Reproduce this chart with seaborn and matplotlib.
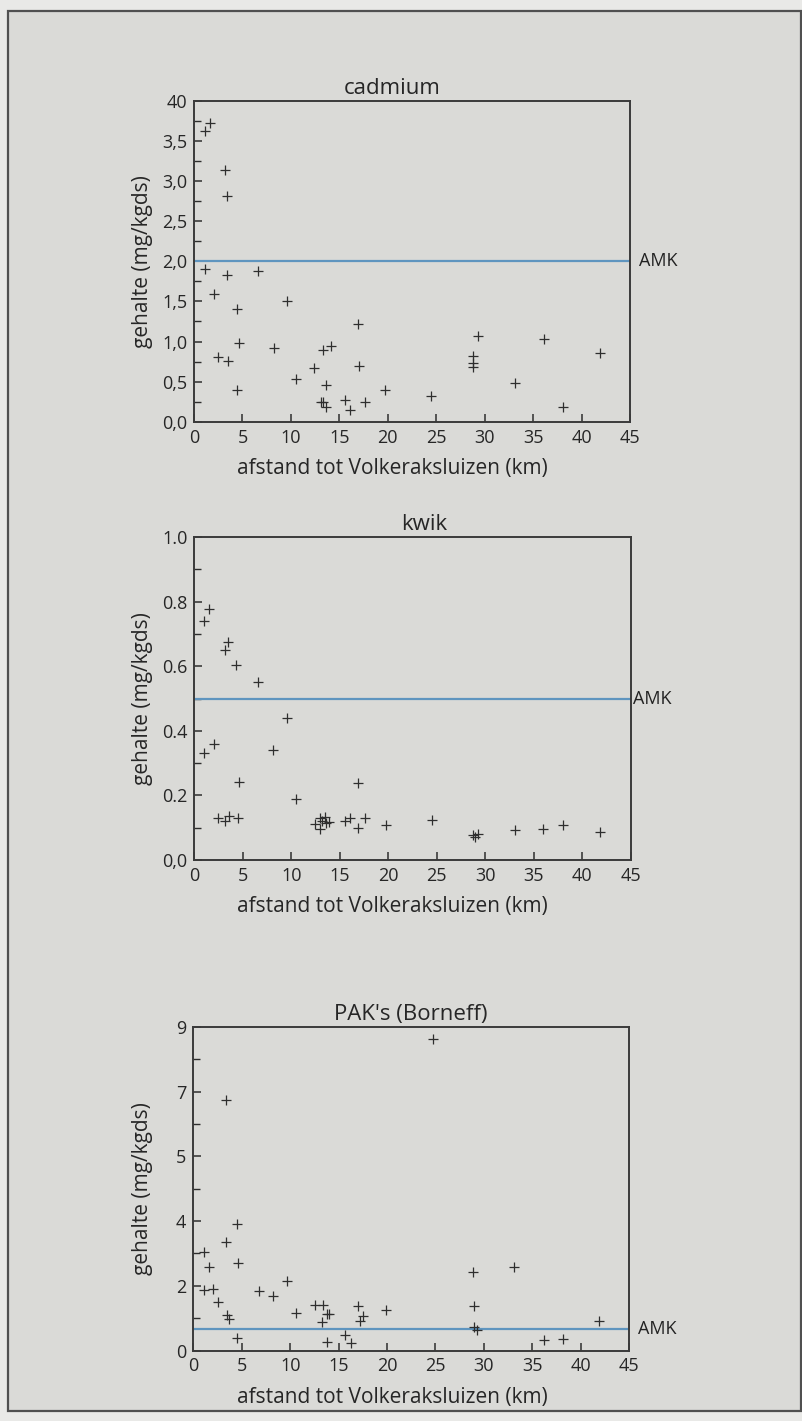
import numpy as np
import pandas as pd
import matplotlib
matplotlib.use("Agg")
import matplotlib.pyplot as plt
from matplotlib.patches import Rectangle
from matplotlib.ticker import FixedLocator, MultipleLocator
import seaborn as sns

# ---------------- data ----------------
cd_x = [1.1, 1.65, 3.16, 3.44, 1.1, 3.4, 6.6, 2.03, 4.44, 9.56, 16.96, 4.64, 8.22, 13.3, 14.1,
        2.44, 3.54, 12.4, 17.0, 10.56, 13.6, 4.44, 19.7, 13.1, 13.35, 13.65, 15.6, 16.1, 17.6,
        24.5, 29.3, 28.8, 28.8, 28.8, 33.1, 36.1, 38.1, 41.9]
cd_y = [3.62, 3.72, 3.14, 2.81, 1.90, 1.83, 1.88, 1.59, 1.41, 1.50, 1.22, 0.98, 0.92, 0.90, 0.94,
        0.81, 0.76, 0.67, 0.69, 0.53, 0.46, 0.40, 0.40, 0.24, 0.24, 0.18, 0.27, 0.14, 0.24,
        0.32, 1.07, 0.82, 0.73, 0.68, 0.48, 1.03, 0.18, 0.86]

hg_x = [1.03, 1.51, 3.13, 3.5, 4.3, 6.6, 9.52, 1.03, 2.06, 8.1, 4.6, 16.9, 10.5, 2.4, 3.2, 3.6,
        4.54, 12.4, 13.0, 13.0, 13.5, 13.6, 13.9, 13.2, 15.5, 16.1, 16.9, 17.56, 19.76, 24.5,
        28.7, 29.3, 28.9, 33.1, 36.0, 38.0, 41.8]
hg_y = [0.74, 0.777, 0.649, 0.675, 0.604, 0.55, 0.44, 0.33, 0.358, 0.342, 0.243, 0.238, 0.19,
        0.131, 0.121, 0.137, 0.131, 0.112, 0.129, 0.097, 0.133, 0.114, 0.118, 0.12, 0.121,
        0.129, 0.098, 0.131, 0.108, 0.124, 0.078, 0.08, 0.07, 0.094, 0.097, 0.108, 0.088]

pak_x = [3.41, 4.48, 3.38, 1.1, 1.65, 4.65, 1.1, 2.07, 2.5, 3.45, 3.72, 4.54, 6.81, 8.2, 9.67,
         10.63, 12.56, 13.36, 13.25, 13.77, 14.04, 13.77, 15.66, 16.28, 16.97, 17.49, 17.21,
         19.89, 24.7, 28.9, 33.1, 28.98, 28.98, 29.26, 36.2, 38.2, 41.9]
pak_y = [6.75, 3.90, 3.36, 3.04, 2.57, 2.69, 1.87, 1.91, 1.49, 1.10, 0.96, 0.40, 1.84, 1.68, 2.15,
         1.17, 1.41, 1.41, 0.87, 1.13, 1.13, 0.26, 0.47, 0.24, 1.37, 1.07, 0.92,
         1.25, 8.64, 2.43, 2.59, 1.37, 0.73, 0.63, 0.32, 0.35, 0.92]

titles = ["cadmium", "kwik", "PAK's (Borneff)"]
amk = [2.0, 0.5, 0.65]

x_ticks = [0, 5, 10, 15, 20, 25, 30, 35, 40, 45]
cd_ticks = [0, 0.5, 1.0, 1.5, 2.0, 2.5, 3.0, 3.5, 4.0]
cd_labels = ["0,0", "0,5", "1,0", "1,5", "2,0", "2,5", "3,0", "3,5", "40"]
hg_ticks = [0, 0.2, 0.4, 0.6, 0.8, 1.0]
hg_labels = ["0,0", "0.2", "0.4", "0.6", "0.8", "1.0"]
pak_ticks = [0, 2, 4, 5, 7, 9]
pak_labels = ["0", "2", "4", "5", "7", "9"]
pak_minor = [1, 3, 4.5, 6, 8]

xlabel = "afstand tot Volkeraksluizen (km)"
ylabel = "gehalte (mg/kgds)"

# ---------------- style ----------------
sns.set_style("ticks")
plt.rcParams["font.family"] = ["Open Sans", "DejaVu Sans"]
INK = "#2e2e2e"
BG_IN = "#dadad7"
BG_OUT = "#e9e9e7"

W, H = 803, 1421
fig = plt.figure(figsize=(W / 100, H / 100), dpi=100, facecolor=BG_OUT)
frame = Rectangle((8 / W, 1 - 1411 / H), (801 - 8) / W, (1411 - 11) / H,
                  transform=fig.transFigure, facecolor=BG_IN,
                  edgecolor="#505050", lw=1.6, zorder=-10)
fig.patches.append(frame)

def px_axes(left, top, right, bottom):
    return [left / W, 1 - bottom / H, (right - left) / W, (bottom - top) / H]

boxes = [px_axes(194, 101, 630, 421.7),
         px_axes(194.3, 537, 630.7, 860),
         px_axes(193.3, 1027, 629.2, 1350.5)]

datasets = [pd.DataFrame({"x": cd_x, "y": cd_y}),
            pd.DataFrame({"x": hg_x, "y": hg_y}),
            pd.DataFrame({"x": pak_x, "y": pak_y})]
ylims = [(0, 4.0), (0, 1.0), (0, 9)]
yticks = [cd_ticks, hg_ticks, pak_ticks]
ylabels_t = [cd_labels, hg_labels, pak_labels]
title_x = [0.454, 0.527, 0.5]
amk_x = [1.02, 1.005, 1.02]

# piecewise scale for the PAK axis (evenly spaced ticks 0,2,4,5,7,9)
kv = np.array(pak_ticks, dtype=float)
kp = np.arange(len(pak_ticks), dtype=float)
def fwd(v):
    return np.interp(v, kv, kp)
def inv(p):
    return np.interp(p, kp, kv)

for i, (box, df) in enumerate(zip(boxes, datasets)):
    ax = fig.add_axes(box)
    ax.set_zorder(1)
    ax.set_facecolor(BG_IN)
    if i == 2:
        ax.set_yscale("function", functions=(fwd, inv))
    sns.scatterplot(data=df, x="x", y="y", ax=ax, marker="+", s=50,
                    color=INK, linewidth=0.9, zorder=3)
    ax.axhline(amk[i], color="#5f95bf", lw=1.6, zorder=2)
    ax.text(amk_x[i], amk[i], "AMK", transform=ax.get_yaxis_transform(),
            ha="left", va="center", fontsize=13, color="#222222")
    ax.set_xlim(0, 45)
    ax.set_ylim(*ylims[i])
    ax.set_xticks(x_ticks)
    ax.set_xticklabels([str(t) for t in x_ticks])
    ax.set_yticks(yticks[i])
    ax.set_yticklabels(ylabels_t[i])
    if i == 0:
        ax.yaxis.set_minor_locator(MultipleLocator(0.25))
    elif i == 1:
        ax.yaxis.set_minor_locator(MultipleLocator(0.1))
    else:
        ax.yaxis.set_minor_locator(FixedLocator(pak_minor))
    ax.tick_params(axis="both", which="major", direction="in", length=6, width=1.1,
                   color=INK, labelsize=13, labelcolor="#262626", pad=5)
    ax.tick_params(axis="y", which="minor", direction="in", length=5, width=1.0, color=INK)
    ax.tick_params(axis="x", which="minor", bottom=False)
    ax.tick_params(top=False, right=False)
    for sp in ax.spines.values():
        sp.set_visible(True)
        sp.set_color("#3a3a3a")
        sp.set_linewidth(1.4)
    ax.set_title(titles[i], fontsize=16, x=title_x[i], pad=5, color="#262626")
    ax.set_xlabel(xlabel, fontsize=15, color="#262626")
    ax.set_ylabel(ylabel, fontsize=15, color="#262626")
    hpx = box[3] * H
    wpx = box[2] * W
    ax.xaxis.set_label_coords((392 - box[0] * W) / wpx, -36 / hpx)
    ax.yaxis.set_label_coords((153 - box[0] * W) / wpx, 0.5)

fig.savefig("out.png", dpi=100, facecolor=BG_OUT)
